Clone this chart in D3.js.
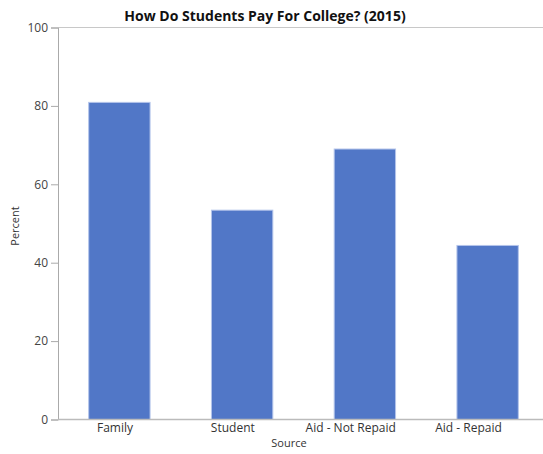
<!DOCTYPE html>
<html><head><meta charset="utf-8">
<script src="https://cdn.jsdelivr.net/npm/d3@7"></script>
<style>
body{margin:0;background:#fff;}
svg{display:block;font-family:"Open Sans","Noto Sans",sans-serif;}
</style></head>
<body><svg id="c" width="543" height="454"></svg>
<script>
const categories = ["Family", "Student", "Aid - Not Repaid", "Aid - Repaid"];
const values = [80.9, 53.4, 69.0, 44.4];
const yTicks = [0, 20, 40, 60, 80, 100];
const title = "How Do Students Pay For College? (2015)";
const xTitle = "Source";
const yTitle = "Percent";

const svg = d3.select("#c");
const mLeft = 58, mRight = 549, mTop = 27.5, mBottom = 419.5;

const x = d3.scaleBand().domain(categories).range([mLeft, mRight]).paddingInner(0.5).paddingOuter(0.25);
const xLabel = d3.scalePoint().domain(categories).range([114.5, 468]);
const y = d3.scaleLinear().domain([0, 100]).range([mBottom, mTop]);

// top frame line
svg.append("line").attr("x1", mLeft).attr("x2", 543).attr("y1", y(100)).attr("y2", y(100))
  .attr("stroke", "#c8c8c8").attr("stroke-width", 1);

svg.append("g").selectAll("rect").data(categories).join("rect")
  .attr("x", d => x(d)).attr("width", x.bandwidth())
  .attr("y", (d, i) => y(values[i])).attr("height", (d, i) => y(0) - y(values[i]))
  .attr("fill", "#5177c7").attr("stroke", "#b4c4ea").attr("stroke-width", 1);

const yAxis = svg.append("g").attr("transform", `translate(${mLeft},0)`)
  .call(d3.axisLeft(y).tickValues(yTicks).tickSize(7).tickPadding(3));
yAxis.select(".domain").attr("stroke", "#aaaaaa");
yAxis.selectAll(".tick line").attr("stroke", "#aaaaaa");
yAxis.selectAll(".tick text").attr("fill", "#444").attr("font-size", 12).attr("font-family", "'Open Sans',sans-serif");

const xAxis = svg.append("g").attr("transform", `translate(0,${mBottom})`)
  .call(d3.axisBottom(xLabel).tickSize(0).tickPadding(4));
xAxis.select(".domain").attr("d", `M${mLeft},0H543`).attr("stroke", "#bbbbbb").attr("stroke-width", 1.5);
xAxis.selectAll(".tick text").attr("fill", "#333").attr("font-size", 12).attr("font-family", "'Open Sans',sans-serif");

svg.append("text").attr("x", 265).attr("y", 21).attr("text-anchor", "middle")
  .attr("font-weight", "bold").attr("font-size", 14).attr("fill", "#111").text(title);

svg.append("text").attr("x", 289).attr("y", 447).attr("text-anchor", "middle")
  .attr("font-size", 11).attr("fill", "#333").text(xTitle);

svg.append("text").attr("transform", "translate(19,226) rotate(-90)").attr("text-anchor", "middle")
  .attr("font-size", 11).attr("fill", "#333").text(yTitle);
</script></body></html>
